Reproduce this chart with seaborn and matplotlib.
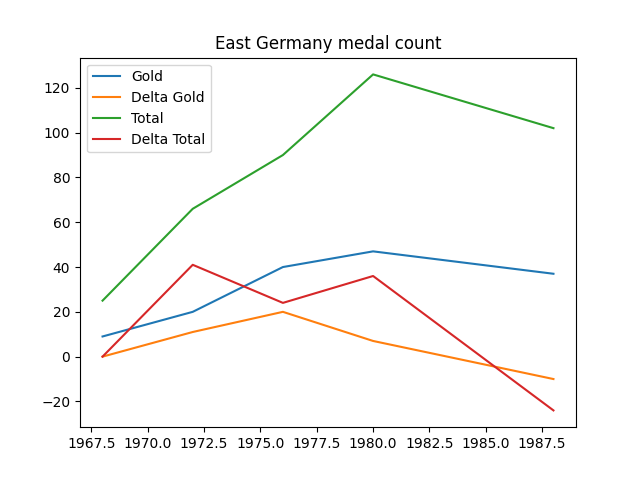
import seaborn as sns
import matplotlib.pyplot as plt
import pandas as pd

years = [1968, 1972, 1976, 1980, 1988]
gold = [9, 20, 40, 47, 37]
delta_gold = [0, 11, 20, 7, -10]
total = [25, 66, 90, 126, 102]
delta_total = [0, 41, 24, 36, -24]

df = pd.DataFrame({'Year': years, 'Gold': gold, 'Delta Gold': delta_gold,
                   'Total': total, 'Delta Total': delta_total})
long = df.melt(id_vars='Year', var_name='series', value_name='count')

fig, ax = plt.subplots(figsize=(6.4, 4.8), dpi=100)
sns.lineplot(data=long, x='Year', y='count', hue='series', ax=ax)
ax.set_xlabel('')
ax.set_ylabel('')
ax.legend(loc='upper left')
ax.set_title('East Germany medal count')
fig.savefig('out.png')
